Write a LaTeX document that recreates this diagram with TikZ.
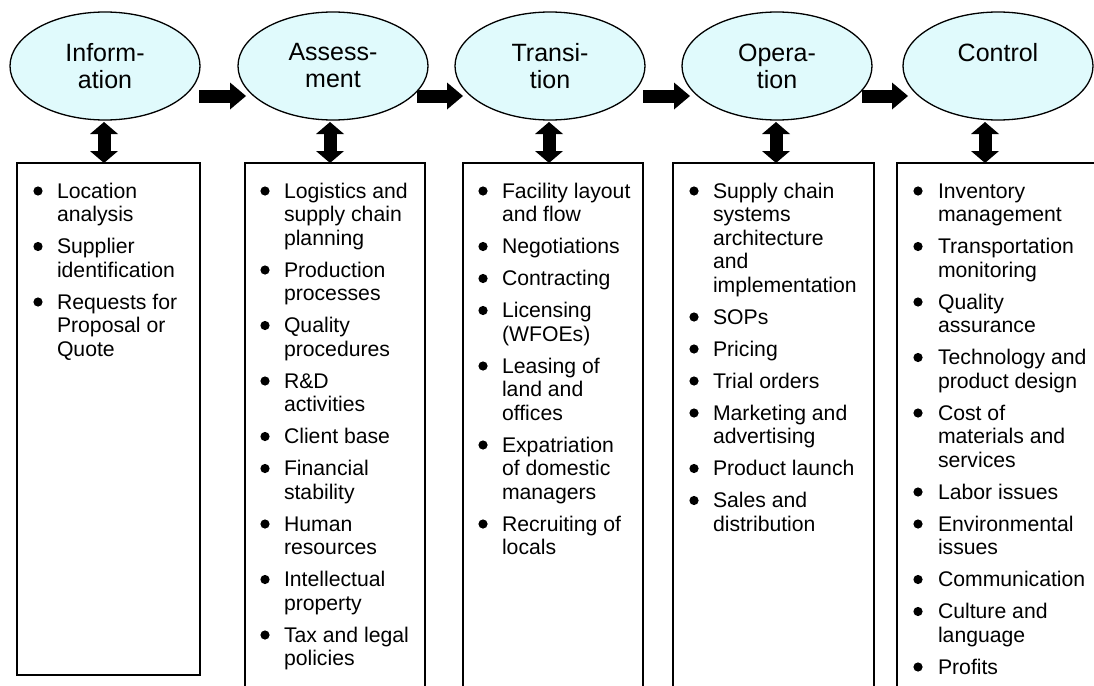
\documentclass[tikz,border=0pt]{standalone}
\usepackage{fontspec}
\setmainfont{Liberation Sans}
\usetikzlibrary{shapes.geometric,arrows.meta,calc}
\definecolor{phasefill}{RGB}{224,250,252}

\tikzset{
  phase/.style={ellipse, draw, line width=1.3pt, fill=phasefill,
    minimum width=190pt, minimum height=108pt, inner sep=0pt, outer sep=0pt,
    align=center, font=\fontsize{25}{27}\selectfont},
  panel/.style={draw, line width=1.5pt, anchor=north west, inner sep=0pt, outer sep=0pt},
  itemtext/.style={anchor=north west, inner sep=0pt, outer sep=0pt, align=left,
    font=\fontsize{21.2}{23.5}\selectfont},
  flowarrow/.style={line width=13pt,
    -{Triangle[length=16pt,width=27pt,line width=0pt 0 0]}},
  linkarrow/.style={line width=13pt,
    {Triangle[length=12pt,width=28pt,line width=0pt 0 0]}-{Triangle[length=12pt,width=28pt,line width=0pt 0 0]}},
}

% bulleted column: #1 name prefix, #2 bullet x, #3 text x, #4 list of lines/text
\newcommand\itemcolumn[4]{%
  \xdef\ycur{198}%
  \foreach \nl/\txt [count=\k] in {#4}{%
    \node[itemtext] (#1-\k) at (#3,\ycur-16) {\rule{0pt}{16pt}\txt};
    \fill (#2,\ycur-7) circle[radius=4.6pt];
    \pgfmathsetmacro\ynext{\ycur+\nl*23.5+8.5}%
    \global\let\ycur\ynext
  }%
}

\begin{document}
\begin{tikzpicture}[x=1pt,y=-1pt]
\useasboundingbox (0,0) rectangle (1094,685);
\fill[white] (0,0) rectangle (1094,685);
\clip (0,0) rectangle (1094,685);

% phases
\node[phase] (e1) at (105,66) {Inform-\\ation};
\node[phase] (e2) at (333,66) {Assess-\\ment};
\node[phase] (e3) at (550,66) {Transi-\\tion};
\node[phase] (e4) at (777,66) {Opera-\\tion};
\node[phase] (e5) at (998,66) {Control\\\phantom{tion}};

% panels
\node[panel, minimum width=183pt, minimum height=512pt] (p1) at (17,163) {};
\node[panel, minimum width=180pt, minimum height=560pt] (p2) at (245,163) {};
\node[panel, minimum width=180pt, minimum height=560pt] (p3) at (463,163) {};
\node[panel, minimum width=201pt, minimum height=560pt] (p4) at (673,163) {};
\node[panel, minimum width=220pt, minimum height=560pt] (p5) at (897,163) {};

% flow arrows between phases
\coordinate (h1s) at ($(e1.east)+(-1,30)$);  \coordinate (h1e) at ($(e2.west)+(8,30)$);
\coordinate (h2s) at ($(e2.east)+(-11,30)$); \coordinate (h2e) at ($(e3.west)+(8,30)$);
\coordinate (h3s) at ($(e3.east)+(-2,30)$);  \coordinate (h3e) at ($(e4.west)+(8,30)$);
\coordinate (h4s) at ($(e4.east)+(-10,30)$); \coordinate (h4e) at ($(e5.west)+(5,30)$);
\draw[flowarrow] (h1s) -- (h1e);
\draw[flowarrow] (h2s) -- (h2e);
\draw[flowarrow] (h3s) -- (h3e);
\draw[flowarrow] (h4s) -- (h4e);

% links between phases and panels
\coordinate (v1) at ($(e1.south)+(-1,2)$);
\coordinate (v2) at ($(e2.south)+(-3,2)$);
\coordinate (v3) at ($(e3.south)+(-1,2)$);
\coordinate (v4) at ($(e4.south)+(-1,2)$);
\coordinate (v5) at ($(e5.south)+(-13,2)$);
\draw[linkarrow] (v1) -- (v1 |- p1.north);
\draw[linkarrow] (v2) -- (v2 |- p2.north);
\draw[linkarrow] (v3) -- (v3 |- p3.north);
\draw[linkarrow] (v4) -- (v4 |- p4.north);
\draw[linkarrow] (v5) -- (v5 |- p5.north);

% panel contents
\itemcolumn{c1}{38}{57}{2/{Location\\analysis}, 2/{Supplier\\identification},
  3/{Requests for\\Proposal or\\Quote}}
\itemcolumn{c2}{265}{284}{3/{Logistics and\\supply chain\\planning}, 2/{Production\\processes},
  2/{Quality\\procedures}, 2/{R\&D\\activities}, 1/{Client base}, 2/{Financial\\stability},
  2/{Human\\resources}, 2/{Intellectual\\property}, 2/{Tax and legal\\policies}}
\itemcolumn{c3}{483}{502}{2/{Facility layout\\and flow}, 1/{Negotiations}, 1/{Contracting},
  2/{Licensing\\(WFOEs)}, 3/{Leasing of\\land and\\offices}, 3/{Expatriation\\of domestic\\managers},
  2/{Recruiting of\\locals}}
\itemcolumn{c4}{694}{713}{5/{Supply chain\\systems\\architecture\\and\\implementation}, 1/{SOPs},
  1/{Pricing}, 1/{Trial orders}, 2/{Marketing and\\advertising}, 1/{Product launch},
  2/{Sales and\\distribution}}
\itemcolumn{c5}{918}{938}{2/{Inventory\\management}, 2/{Transportation\\monitoring},
  2/{Quality\\assurance}, 2/{Technology and\\product design}, 3/{Cost of\\materials and\\services},
  1/{Labor issues}, 2/{Environmental\\issues}, 1/{Communication}, 2/{Culture and\\language},
  1/{Profits}}
\end{tikzpicture}
\end{document}
